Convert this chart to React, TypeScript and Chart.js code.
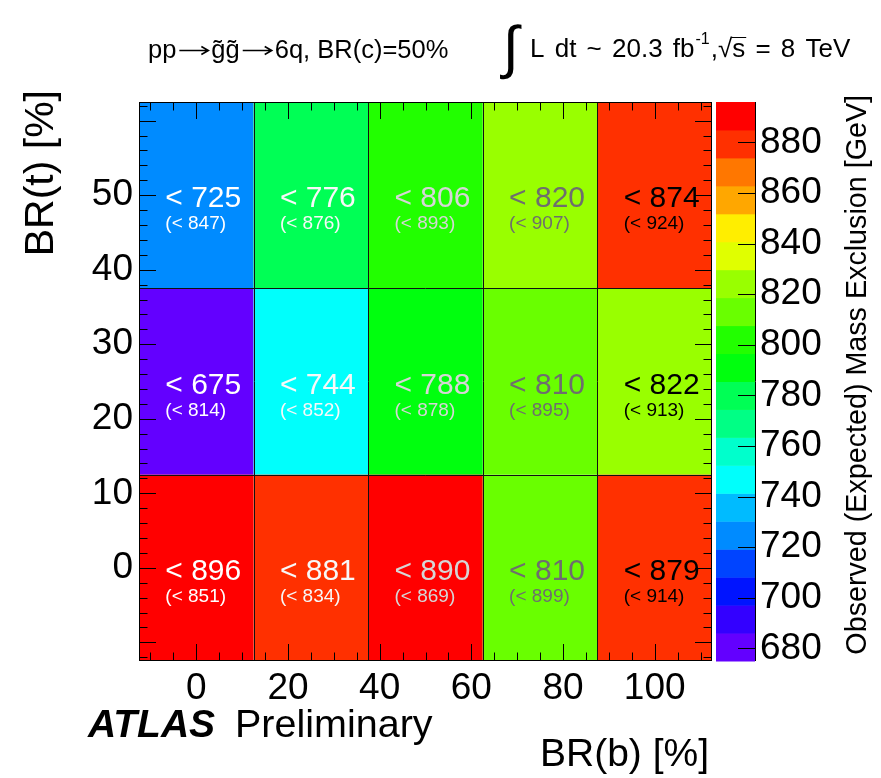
import { useEffect, useRef } from 'react';
import { Chart, registerables } from 'chart.js';

Chart.register(...registerables);

const FONT = '"Liberation Sans", Arial, Helvetica, sans-serif';

// BR(b) bin centres [%]
const brB = [0, 25, 50, 75, 100];
// BR(t) bin centres [%]
const brT = [0, 25, 50];
// Observed gluino mass exclusion [GeV], one row per BR(t) bin
const observedLimit = [
  [896, 881, 890, 810, 879],
  [675, 744, 788, 810, 822],
  [725, 776, 806, 820, 874],
];
// Expected gluino mass exclusion [GeV], one row per BR(t) bin
const expectedLimit = [
  [851, 834, 869, 899, 914],
  [814, 852, 878, 895, 913],
  [847, 876, 893, 907, 924],
];
const xTickValues = [0, 20, 40, 60, 80, 100];
const yTickValues = [0, 10, 20, 30, 40, 50];
const zTickValues = [680, 700, 720, 740, 760, 780, 800, 820, 840, 860, 880];
// text colour of the limit labels in each BR(b) column
const columnTextColors = ['#ffffff', '#f8f8f8', '#d6d6d6', '#6e6e6e', '#000000'];

const N_CONTOURS = 20;
const allObserved = observedLimit.flat();
const zMin = Math.min(...allObserved);
const zMax = Math.max(...allObserved);
const dz = (zMax - zMin) / N_CONTOURS;

// ROOT "pretty" rainbow palette (49 hues violet -> red, then pure red), sampled on 20 contours
const palette = Array.from({ length: N_CONTOURS }, (_, k) => {
  const idx = Math.floor(((k + 0.99) * 50) / N_CONTOURS);
  const hue = idx >= 49 ? 0 : 280 - (idx + 1) * 5.6;
  return `hsl(${hue}, 100%, 50%)`;
});
const colorFor = (v: number) =>
  palette[Math.min(N_CONTOURS - 1, Math.max(0, Math.floor((v - zMin) / dz + 1e-9)))];

const binWidthX = brB[1] - brB[0];
const halfX = binWidthX / 2;
const halfY = (brT[1] - brT[0]) / 2;
// the bar ruler uses the tick spacing, so widen bars to one full bin
const barFill = binWidthX / (xTickValues[1] - xTickValues[0]);

function drawArrow(ctx: CanvasRenderingContext2D, x: number, y: number, len: number) {
  ctx.beginPath();
  ctx.moveTo(x, y);
  ctx.lineTo(x + len, y);
  ctx.moveTo(x + len - 7, y - 4);
  ctx.lineTo(x + len, y);
  ctx.lineTo(x + len - 7, y + 4);
  ctx.stroke();
}

const decorations = {
  id: 'atlasDecorations',
  afterDatasetsDraw(chart: any) {
    const { ctx, chartArea: a } = chart;
    const xs = chart.scales.x;
    const ys = chart.scales.y;
    const zs = chart.scales.z;
    ctx.save();

    // bin boundaries
    ctx.strokeStyle = '#111111';
    ctx.lineWidth = 1;
    ctx.beginPath();
    for (let i = 1; i < brB.length; i++) {
      const px = Math.round(xs.getPixelForValue((brB[i - 1] + brB[i]) / 2)) + 0.5;
      ctx.moveTo(px, a.top);
      ctx.lineTo(px, a.bottom);
    }
    for (let j = 1; j < brT.length; j++) {
      const py = Math.round(ys.getPixelForValue((brT[j - 1] + brT[j]) / 2)) + 0.5;
      ctx.moveTo(a.left, py);
      ctx.lineTo(a.right, py);
    }
    ctx.stroke();

    // observed (expected) limit labels
    ctx.textAlign = 'left';
    ctx.textBaseline = 'alphabetic';
    brT.forEach((t, r) =>
      brB.forEach((b, c) => {
        const cx = xs.getPixelForValue(b);
        const cy = ys.getPixelForValue(t);
        ctx.fillStyle = columnTextColors[c];
        ctx.font = `30px ${FONT}`;
        ctx.fillText(`< ${observedLimit[r][c]}`, cx - 31, cy + 12);
        ctx.font = `19px ${FONT}`;
        ctx.fillText(`(< ${expectedLimit[r][c]})`, cx - 31, cy + 34);
      })
    );

    // inward frame ticks
    ctx.strokeStyle = '#000000';
    ctx.beginPath();
    for (let v = -10; v <= 110; v += 5) {
      const len = v % 20 === 0 ? 17 : 8.5;
      const px = Math.round(xs.getPixelForValue(v)) + 0.5;
      ctx.moveTo(px, a.bottom);
      ctx.lineTo(px, a.bottom - len);
      ctx.moveTo(px, a.top);
      ctx.lineTo(px, a.top + len);
    }
    for (let v = -12; v <= 62; v += 2) {
      const len = v % 10 === 0 ? 17 : 8.5;
      const py = Math.round(ys.getPixelForValue(v)) + 0.5;
      ctx.moveTo(a.left, py);
      ctx.lineTo(a.left + len, py);
      ctx.moveTo(a.right, py);
      ctx.lineTo(a.right - len, py);
    }
    ctx.stroke();
    ctx.strokeRect(a.left + 0.5, a.top + 0.5, a.width - 1, a.height - 1);

    // colour bar
    const bx0 = a.right + 4;
    const bx1 = a.right + 43;
    for (let k = 0; k < N_CONTOURS; k++) {
      const y0 = zs.getPixelForValue(zMin + k * dz);
      const y1 = zs.getPixelForValue(zMin + (k + 1) * dz);
      ctx.fillStyle = palette[k];
      ctx.fillRect(bx0, y1, bx1 - bx0, y0 - y1 + 0.5);
    }
    ctx.beginPath();
    ctx.moveTo(bx1 + 0.5, zs.top);
    ctx.lineTo(bx1 + 0.5, zs.bottom);
    zTickValues.forEach((v) => {
      const py = Math.round(zs.getPixelForValue(v)) + 0.5;
      ctx.moveTo(bx1, py);
      ctx.lineTo(bx1 - 17, py);
    });
    ctx.stroke();

    // header: process
    ctx.fillStyle = '#000000';
    ctx.lineWidth = 1.6;
    ctx.font = `25.5px ${FONT}`;
    let x = 148;
    ctx.fillText('pp', x, 58);
    x += ctx.measureText('pp').width + 3;
    drawArrow(ctx, x, 50.5, 29);
    x += 32;
    ctx.fillText('g\u0303g\u0303', x, 58);
    x += ctx.measureText('g\u0303g\u0303').width + 3;
    drawArrow(ctx, x, 50.5, 29);
    x += 32;
    ctx.fillText('6q, BR(c)=50%', x, 58);

    // header: luminosity and energy
    ctx.font = `58px ${FONT}`;
    ctx.fillText('\u222B', 503, 67);
    ctx.font = `26px ${FONT}`;
    (ctx as any).wordSpacing = '3px';
    x = 530;
    const lumi = 'L dt ~ 20.3 fb';
    ctx.fillText(lumi, x, 57);
    x += ctx.measureText(lumi).width;
    ctx.font = `16px ${FONT}`;
    ctx.fillText('-1', x + 1, 44);
    x += ctx.measureText('-1').width + 2;
    ctx.font = `26px ${FONT}`;
    ctx.fillText(',', x, 57);
    x += ctx.measureText(',').width;
    ctx.fillText('\u221As = 8 TeV', x, 57);
    const rw = ctx.measureText('\u221A').width;
    const sw = ctx.measureText('s').width;
    ctx.lineWidth = 1;
    ctx.beginPath();
    ctx.moveTo(x + rw - 1, 37.5);
    ctx.lineTo(x + rw + sw + 1, 37.5);
    ctx.stroke();
    (ctx as any).wordSpacing = '0px';

    // axis titles
    ctx.font = `39px ${FONT}`;
    ctx.textAlign = 'right';
    ctx.fillText('BR(b) [%]', a.right - 3, 766);
    ctx.save();
    ctx.font = `41px ${FONT}`;
    ctx.translate(53, a.top - 12);
    ctx.rotate(-Math.PI / 2);
    ctx.fillText('BR(t) [%]', 0, 0);
    ctx.restore();
    ctx.save();
    ctx.font = `28.7px ${FONT}`;
    ctx.translate(866, 95);
    ctx.rotate(-Math.PI / 2);
    ctx.fillText('Observed (Expected) Mass Exclusion [GeV]', 0, 0);
    ctx.restore();

    // experiment label
    ctx.textAlign = 'left';
    ctx.font = `italic bold 39px ${FONT}`;
    ctx.fillText('ATLAS', 88, 737);
    ctx.font = `39.5px ${FONT}`;
    ctx.fillText('Preliminary', 235, 737);

    ctx.restore();
  },
};

export default function App() {
  const canvasRef = useRef<HTMLCanvasElement | null>(null);

  useEffect(() => {
    const canvas = canvasRef.current;
    if (!canvas) return;

    const datasets = brT.map((t, r) => ({
      label: `BR(t) = ${t}%`,
      data: brB.map((b) => ({ x: b, y: [t - halfY, t + halfY] })),
      backgroundColor: observedLimit[r].map(colorFor),
      borderWidth: 0,
      barPercentage: barFill,
      categoryPercentage: 1,
      grouped: false,
    }));

    const tickFont = { family: FONT, size: 37 };

    const chart = new Chart(canvas, {
      type: 'bar',
      data: { datasets: datasets as any },
      plugins: [decorations],
      options: {
        responsive: false,
        animation: false,
        events: [],
        layout: { padding: { left: 0, right: 0, top: 102, bottom: 0 } },
        plugins: { legend: { display: false }, tooltip: { enabled: false } },
        scales: {
          x: {
            type: 'linear',
            position: 'bottom',
            min: brB[0] - halfX,
            max: brB[brB.length - 1] + halfX,
            offset: false,
            grid: { display: false, drawTicks: false },
            border: { display: false },
            ticks: { font: tickFont, color: '#000000', padding: 6, autoSkip: false, maxRotation: 0 },
            afterBuildTicks: (s: any) => {
              s.ticks = xTickValues.map((value) => ({ value }));
            },
            afterFit: (s: any) => {
              s.height = 117;
            },
          },
          y: {
            type: 'linear',
            position: 'left',
            min: brT[0] - halfY,
            max: brT[brT.length - 1] + halfY,
            grid: { display: false, drawTicks: false },
            border: { display: false },
            ticks: { font: tickFont, color: '#000000', padding: 6, autoSkip: false },
            afterBuildTicks: (s: any) => {
              s.ticks = yTickValues.map((value) => ({ value }));
            },
            afterFit: (s: any) => {
              s.width = 139;
            },
          },
          z: {
            type: 'linear',
            axis: 'y',
            position: 'right',
            min: zMin,
            max: zMax,
            grid: { display: false, drawTicks: false },
            border: { display: false },
            ticks: { font: tickFont, color: '#000000', padding: 48, autoSkip: false },
            afterBuildTicks: (s: any) => {
              s.ticks = zTickValues.map((value) => ({ value }));
            },
            afterFit: (s: any) => {
              s.width = 169;
            },
          },
        },
      } as any,
    });

    return () => chart.destroy();
  }, []);

  return (
    <div style={{ position: 'absolute', left: 0, top: 0, width: 881, height: 778, background: '#ffffff' }}>
      <canvas ref={canvasRef} width={881} height={778} style={{ display: 'block' }} />
    </div>
  );
}
